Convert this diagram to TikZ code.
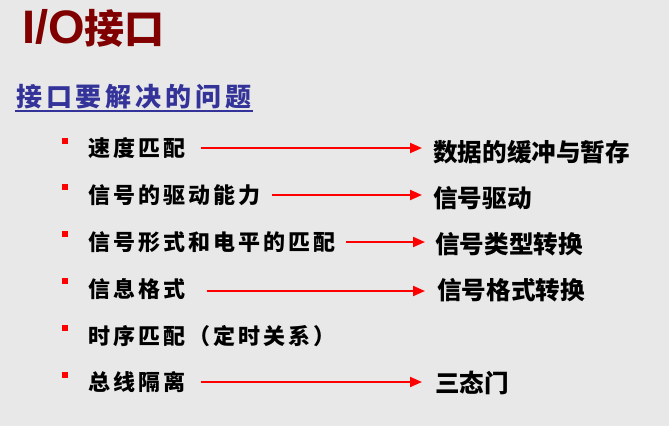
\documentclass[tikz,border=0pt]{standalone}
\usepackage{fontspec}
\usetikzlibrary{arrows.meta}
\newfontfamily\latinb{Liberation Sans}
\newfontfamily\cjk{Noto Sans CJK SC}
\newfontfamily\cjkl[LetterSpace=14]{Noto Sans CJK SC}
\newfontfamily\cjks[LetterSpace=15]{Noto Sans CJK SC}
\definecolor{bgc}{HTML}{E8E8E8}
\definecolor{titlered}{HTML}{800000}
\definecolor{subblue}{HTML}{333399}
\tikzset{
  leftitem/.style={anchor=west, inner sep=0pt, font=\cjkl\bfseries\fontsize{22}{22}\selectfont},
  rightitem/.style={anchor=west, inner sep=0pt, font=\cjk\bfseries\fontsize{24.6}{24.6}\selectfont},
  bullet/.style={fill=red, inner sep=0pt, minimum size=6pt, draw=none},
  arr/.style={draw=red, line width=2pt, -{Triangle[length=12pt,width=10pt]}},
}
\begin{document}
\begin{tikzpicture}[x=1pt,y=-1pt]
\fill[bgc] (0,0) rectangle (669,426);
\useasboundingbox (0,0) rectangle (669,426);
% title
\node[anchor=base west, inner sep=0pt, text=titlered] (title) at (22,43)
  {\latinb\bfseries\fontsize{47}{47}\selectfont I/O\cjk\fontsize{40}{40}\selectfont 接口};
% subtitle
\node[anchor=west, inner sep=0pt, text=subblue, font=\cjks\bfseries\fontsize{26}{26}\selectfont] (sub) at (16,97) {接口要解决的问题};
\draw[subblue, line width=1.4pt] (15,111) -- (253,111);
% bullets
\foreach \i/\y in {1/141,2/187,3/234,4/281,5/328,6/375}
  \node[bullet] (b\i) at (65,\y) {};
% left items
\node[leftitem] (s1) at (88,148) {速度匹配};
\node[leftitem] (s2) at (88,195) {信号的驱动能力};
\node[leftitem] (s3) at (88,242) {信号形式和电平的匹配};
\node[leftitem] (s4) at (88,289) {信息格式};
\node[leftitem] (s5) at (88,336) {时序匹配（定时关系）};
\node[leftitem] (s6) at (88,382) {总线隔离};
% right items
\node[rightitem] (t1) at (433,152) {数据的缓冲与暂存};
\node[rightitem] (t2) at (433,198) {信号驱动};
\node[rightitem] (t3) at (435,244) {信号类型转换};
\node[rightitem] (t4) at (437,290) {信号格式转换};
\node[rightitem] (t5) at (435,383) {三态门};
% arrows
\draw[arr, shorten <=15pt, shorten >=11pt] ([yshift=0pt]s1.east) -- ([yshift=0pt]s1.east -| t1.west);
\draw[arr, shorten <=11pt, shorten >=11pt] ([yshift=0pt]s2.east) -- ([yshift=0pt]s2.east -| t2.west);
\draw[arr, shorten <=10pt, shorten >=10pt] ([yshift=0pt]s3.east) -- ([yshift=0pt]s3.east -| t3.west);
\draw[arr, shorten <=21pt, shorten >=12pt] ([yshift=-2pt]s4.east) -- ([yshift=-2pt]s4.east -| t4.west);
\draw[arr, shorten <=15pt, shorten >=13pt] (s6.east) -- (s6.east -| t5.west);
\end{tikzpicture}
\end{document}
